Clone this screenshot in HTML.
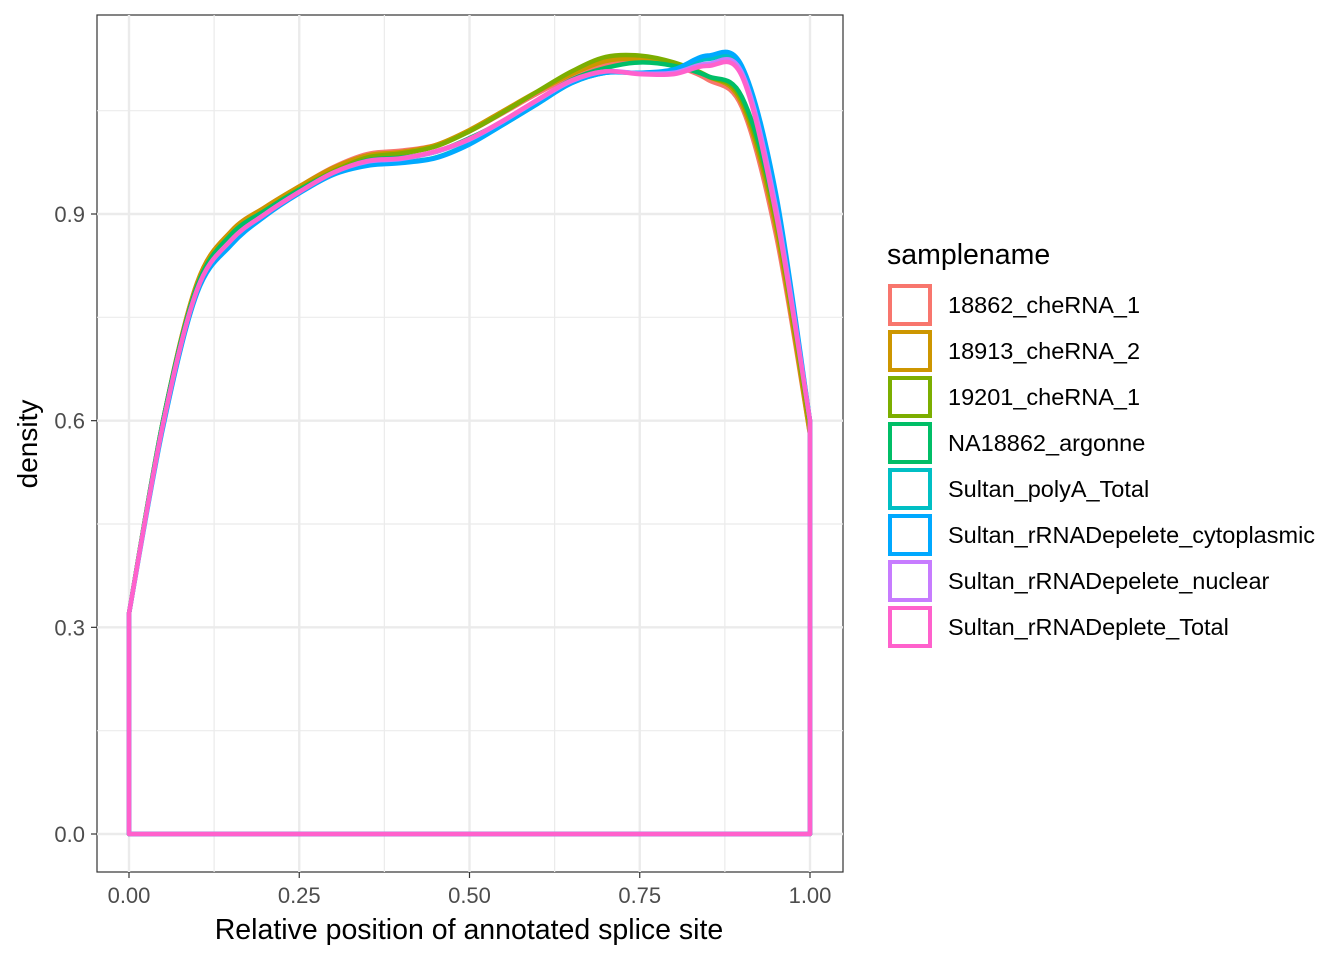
<!DOCTYPE html>
<html><head><meta charset="utf-8"><style>
body{margin:0;background:#fff;font-family:"Liberation Sans",Arial,sans-serif}
</style></head><body>
<svg id="chart" width="1344" height="960" xmlns="http://www.w3.org/2000/svg">
<rect x="97" y="15" width="746" height="857" fill="#fff" stroke="#333" stroke-width="1.2"/>
<g id="grid"></g>
<g id="series"></g>
<g id="axes" font-size="22" fill="#4d4d4d"></g>
<text x="469" y="939" font-size="28.5" text-anchor="middle" fill="#000">Relative position of annotated splice site</text>
<text transform="translate(37,444) rotate(-90)" font-size="28" text-anchor="middle" fill="#000">density</text>
<g id="legend"></g>
</svg>
<script>
const xs=[0,0.05,0.1,0.15,0.2,0.25,0.3,0.35,0.4,0.45,0.5,0.55,0.6,0.65,0.7,0.75,0.8,0.85,0.9,0.95,1.0];
const names=["18862_cheRNA_1","18913_cheRNA_2","19201_cheRNA_1","NA18862_argonne","Sultan_polyA_Total","Sultan_rRNADepelete_cytoplasmic","Sultan_rRNADepelete_nuclear","Sultan_rRNADeplete_Total"];
const colors=["#F8766D","#CD9600","#7CAE00","#00BE67","#00BFC4","#00A9FF","#C77CFF","#FF61CC"];
const s1=[0.32,0.6,0.80,0.875,0.91,0.94,0.968,0.987,0.992,1.0,1.02,1.047,1.075,1.1,1.118,1.122,1.115,1.095,1.055,0.87,0.58];
const s2=[0.32,0.6,0.80,0.875,0.91,0.94,0.967,0.985,0.99,1.0,1.022,1.05,1.078,1.103,1.122,1.125,1.118,1.1,1.06,0.88,0.58];
const s3=[0.32,0.6,0.795,0.87,0.905,0.936,0.962,0.982,0.988,0.998,1.02,1.048,1.078,1.107,1.128,1.13,1.12,1.1,1.065,0.89,0.59];
const s4=[0.32,0.6,0.795,0.87,0.905,0.935,0.96,0.978,0.982,0.99,1.01,1.035,1.065,1.095,1.112,1.12,1.115,1.1,1.07,0.9,0.6];
const s5=[0.32,0.595,0.79,0.86,0.9,0.932,0.958,0.972,0.975,0.982,1.002,1.03,1.06,1.09,1.105,1.105,1.108,1.125,1.11,0.92,0.6];
const s6=[0.32,0.59,0.785,0.855,0.897,0.93,0.957,0.97,0.974,0.981,1.001,1.03,1.06,1.09,1.105,1.105,1.11,1.13,1.115,0.93,0.6];
const s7=[0.32,0.595,0.79,0.862,0.9,0.932,0.96,0.976,0.98,0.99,1.008,1.035,1.065,1.093,1.107,1.104,1.105,1.118,1.105,0.91,0.6];
const s8=[0.32,0.595,0.79,0.862,0.9,0.932,0.96,0.977,0.981,0.991,1.009,1.036,1.066,1.094,1.107,1.103,1.103,1.115,1.1,0.9,0.6];
const series=[s1,s2,s3,s4,s5,s6,s7,s8];
const xTicks=[0,0.25,0.5,0.75,1.0];
const xTickLabels=["0.00","0.25","0.50","0.75","1.00"];
const yTicks=[0,0.3,0.6,0.9];
const yTickLabels=["0.0","0.3","0.6","0.9"];
const X=v=>129+v*681, Y=v=>834-v*(620/0.9);
const NS="http://www.w3.org/2000/svg";
function mk(t,a,p){const e=document.createElementNS(NS,t);for(const k in a)e.setAttribute(k,a[k]);p.appendChild(e);return e;}
const grid=document.getElementById('grid');
for(let i=0;i<xTicks.length-1;i++){const v=(xTicks[i]+xTicks[i+1])/2;const l=mk('line',{x1:X(v),x2:X(v),y1:15,y2:872,stroke:'#ebebeb','stroke-width':1.2},grid);

}
for(let i=0;i<yTicks.length;i++){const v=yTicks[i]+0.15;const l=mk('line',{x1:97,x2:843,y1:Y(v),y2:Y(v),stroke:'#ebebeb','stroke-width':1.2},grid);

}
xTicks.forEach(v=>{const l=mk('line',{x1:X(v),x2:X(v),y1:15,y2:872,stroke:'#ebebeb','stroke-width':2.4},grid);

});
yTicks.forEach(v=>{const l=mk('line',{x1:97,x2:843,y1:Y(v),y2:Y(v),stroke:'#ebebeb','stroke-width':2.4},grid);

});
const sg=document.getElementById('series');
series.forEach((s,k)=>{
 const P=xs.map((x,i)=>[X(x),Y(s[i])]);
 let d=`M${X(1)},${Y(0)} L${X(0)},${Y(0)} L${P[0][0]},${P[0][1]}`;
 for(let i=0;i<P.length-1;i++){const p0=P[Math.max(0,i-1)],p1=P[i],p2=P[i+1],p3=P[Math.min(P.length-1,i+2)];
  d+=` C${p1[0]+(p2[0]-p0[0])/6},${p1[1]+(p2[1]-p0[1])/6} ${p2[0]-(p3[0]-p1[0])/6},${p2[1]-(p3[1]-p1[1])/6} ${p2[0]},${p2[1]}`;}
 d+=' Z';
 const e=mk('path',{d:d,fill:'none',stroke:colors[k],'stroke-width':4.5,'stroke-linejoin':'round'},sg);
 
 
});
const ax=document.getElementById('axes');
xTicks.forEach((v,i)=>{const t=mk('line',{x1:X(v),x2:X(v),y1:872,y2:878,stroke:'#333','stroke-width':1.2},ax);


const l=mk('text',{x:X(v),y:903,'text-anchor':'middle'},ax);l.textContent=xTickLabels[i];

});
yTicks.forEach((v,i)=>{const t=mk('line',{x1:91,x2:97,y1:Y(v),y2:Y(v),stroke:'#333','stroke-width':1.2},ax);


const l=mk('text',{x:85,y:Y(v)+8,'text-anchor':'end'},ax);l.textContent=yTickLabels[i];

});
const lg=document.getElementById('legend');
const tt=mk('text',{x:887,y:264,'font-size':28.5,fill:'#000'},lg);tt.textContent='samplename';


names.forEach((n,i)=>{const y=286+i*46;
 const r=mk('rect',{x:890,y:y,width:40,height:38,fill:'#fff',stroke:colors[i],'stroke-width':4},lg);
 
 
 const t=mk('text',{x:948,y:y+27,'font-size':23.5,fill:'#000'},lg);t.textContent=n;
 
 });
</script>
</body></html>
